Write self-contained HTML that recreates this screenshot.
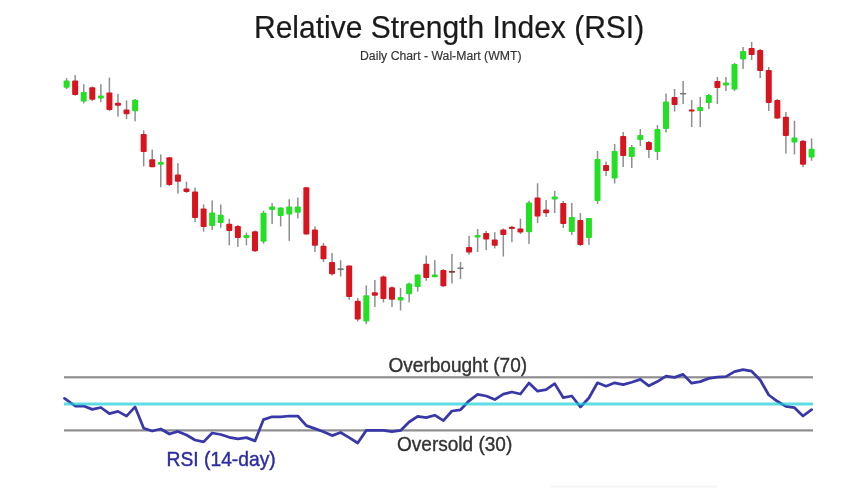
<!DOCTYPE html>
<html><head><meta charset="utf-8">
<style>
html,body{margin:0;padding:0;background:#fff;}
body{width:850px;height:500px;overflow:hidden;position:relative;font-family:"Liberation Sans",sans-serif;}
svg{position:absolute;left:0;top:0;filter:blur(0.35px);}
.t{position:absolute;white-space:nowrap;line-height:1;filter:blur(0.25px);}
</style></head><body>
<svg width="850" height="500" viewBox="0 0 850 500">
<g>
<rect x="65.85" y="78.2" width="1.5" height="10.8" fill="#8f8f8f"/>
<rect x="63.60" y="80.6" width="6" height="7.2" rx="1" fill="#24e024"/>
<rect x="74.41" y="75.2" width="1.5" height="20.4" fill="#8f8f8f"/>
<rect x="72.16" y="80.6" width="6" height="14.4" rx="1" fill="#d8141e"/>
<rect x="82.98" y="84.2" width="1.5" height="19.2" fill="#8f8f8f"/>
<rect x="80.73" y="92.0" width="6" height="9.6" rx="1" fill="#24e024"/>
<rect x="91.54" y="86.5" width="1.5" height="14.5" fill="#8f8f8f"/>
<rect x="89.29" y="87.2" width="6" height="12.6" rx="1" fill="#d8141e"/>
<rect x="100.10" y="84.2" width="1.5" height="18.0" fill="#8f8f8f"/>
<rect x="97.85" y="95.6" width="6" height="3.0" rx="1" fill="#24e024"/>
<rect x="108.66" y="77.6" width="1.5" height="33.6" fill="#8f8f8f"/>
<rect x="106.41" y="92.6" width="6" height="17.4" rx="1" fill="#d8141e"/>
<rect x="117.23" y="93.8" width="1.5" height="22.8" fill="#8f8f8f"/>
<rect x="114.98" y="102.8" width="6" height="3.0" rx="1" fill="#d8141e"/>
<rect x="125.79" y="100.4" width="1.5" height="18.6" fill="#8f8f8f"/>
<rect x="123.54" y="109.4" width="6" height="4.8" rx="1" fill="#d8141e"/>
<rect x="134.35" y="99.0" width="1.5" height="22.4" fill="#8f8f8f"/>
<rect x="132.10" y="99.8" width="6" height="11.4" rx="1" fill="#24e024"/>
<rect x="142.92" y="130.4" width="1.5" height="36.0" fill="#8f8f8f"/>
<rect x="140.67" y="134.1" width="6" height="17.9" rx="1" fill="#d8141e"/>
<rect x="151.48" y="149.6" width="1.5" height="17.6" fill="#8f8f8f"/>
<rect x="149.23" y="159.2" width="6" height="8.0" rx="1" fill="#d8141e"/>
<rect x="160.04" y="154.4" width="1.5" height="32.9" fill="#8f8f8f"/>
<rect x="157.79" y="162.0" width="6" height="2.8" rx="1" fill="#24e024"/>
<rect x="168.61" y="157.2" width="1.5" height="28.8" fill="#8f8f8f"/>
<rect x="166.36" y="157.2" width="6" height="27.7" rx="1" fill="#d8141e"/>
<rect x="177.17" y="163.2" width="1.5" height="30.5" fill="#8f8f8f"/>
<rect x="174.92" y="174.5" width="6" height="7.2" rx="1" fill="#d8141e"/>
<rect x="185.73" y="181.7" width="1.5" height="11.2" fill="#8f8f8f"/>
<rect x="183.48" y="188.5" width="6" height="3.5" rx="1" fill="#d8141e"/>
<rect x="194.30" y="187.6" width="1.5" height="34.4" fill="#8f8f8f"/>
<rect x="192.05" y="191.6" width="6" height="26.4" rx="1" fill="#d8141e"/>
<rect x="202.86" y="204.4" width="1.5" height="27.3" fill="#8f8f8f"/>
<rect x="200.61" y="208.4" width="6" height="18.5" rx="1" fill="#d8141e"/>
<rect x="211.42" y="200.4" width="1.5" height="29.6" fill="#8f8f8f"/>
<rect x="209.17" y="212.4" width="6" height="13.6" rx="1" fill="#24e024"/>
<rect x="219.98" y="204.4" width="1.5" height="23.3" fill="#8f8f8f"/>
<rect x="217.73" y="214.8" width="6" height="8.1" rx="1" fill="#24e024"/>
<rect x="228.55" y="218.8" width="1.5" height="26.5" fill="#8f8f8f"/>
<rect x="226.30" y="223.7" width="6" height="7.2" rx="1" fill="#d8141e"/>
<rect x="237.11" y="225.0" width="1.5" height="21.9" fill="#8f8f8f"/>
<rect x="234.86" y="226.0" width="6" height="12.0" rx="1" fill="#d8141e"/>
<rect x="245.67" y="232.5" width="1.5" height="12.8" fill="#8f8f8f"/>
<rect x="243.42" y="234.9" width="6" height="3.1" rx="1" fill="#24e024"/>
<rect x="254.24" y="230.5" width="1.5" height="21.5" fill="#8f8f8f"/>
<rect x="251.99" y="231.2" width="6" height="20.1" rx="1" fill="#d8141e"/>
<rect x="262.80" y="210.8" width="1.5" height="32.9" fill="#8f8f8f"/>
<rect x="260.55" y="212.8" width="6" height="28.9" rx="1" fill="#24e024"/>
<rect x="271.36" y="203.2" width="1.5" height="20.8" fill="#8f8f8f"/>
<rect x="269.11" y="206.5" width="6" height="3.5" rx="1" fill="#24e024"/>
<rect x="279.93" y="207.5" width="1.5" height="18.9" fill="#8f8f8f"/>
<rect x="277.68" y="207.5" width="6" height="8.5" rx="1" fill="#24e024"/>
<rect x="288.49" y="199.2" width="1.5" height="41.7" fill="#8f8f8f"/>
<rect x="286.24" y="206.4" width="6" height="8.0" rx="1" fill="#24e024"/>
<rect x="297.05" y="197.6" width="1.5" height="20.8" fill="#8f8f8f"/>
<rect x="294.80" y="206.4" width="6" height="6.4" rx="1" fill="#24e024"/>
<rect x="305.61" y="187.2" width="1.5" height="47.3" fill="#8f8f8f"/>
<rect x="303.36" y="187.2" width="6" height="47.3" rx="1" fill="#d8141e"/>
<rect x="314.18" y="226.4" width="1.5" height="25.6" fill="#8f8f8f"/>
<rect x="311.93" y="229.6" width="6" height="16.1" rx="1" fill="#d8141e"/>
<rect x="322.74" y="243.1" width="1.5" height="18.9" fill="#8f8f8f"/>
<rect x="320.49" y="245.8" width="6" height="13.5" rx="1" fill="#d8141e"/>
<rect x="331.30" y="253.0" width="1.5" height="22.5" fill="#8f8f8f"/>
<rect x="329.05" y="262.0" width="6" height="12.2" rx="1" fill="#d8141e"/>
<rect x="339.87" y="260.2" width="1.5" height="16.2" fill="#8f8f8f"/>
<rect x="337.62" y="268.3" width="6" height="1.8" fill="#777777"/>
<rect x="348.43" y="265.6" width="1.5" height="34.2" fill="#8f8f8f"/>
<rect x="346.18" y="265.6" width="6" height="31.5" rx="1" fill="#d8141e"/>
<rect x="356.99" y="298.0" width="1.5" height="23.4" fill="#8f8f8f"/>
<rect x="354.74" y="300.7" width="6" height="18.9" rx="1" fill="#d8141e"/>
<rect x="365.56" y="285.4" width="1.5" height="38.7" fill="#8f8f8f"/>
<rect x="363.31" y="295.3" width="6" height="26.1" rx="1" fill="#24e024"/>
<rect x="374.12" y="280.0" width="1.5" height="27.0" fill="#8f8f8f"/>
<rect x="371.87" y="292.2" width="6" height="3.6" rx="1" fill="#d8141e"/>
<rect x="382.68" y="275.5" width="1.5" height="27.0" fill="#8f8f8f"/>
<rect x="380.43" y="276.4" width="6" height="22.5" rx="1" fill="#d8141e"/>
<rect x="391.24" y="286.3" width="1.5" height="20.7" fill="#8f8f8f"/>
<rect x="388.99" y="287.2" width="6" height="12.6" rx="1" fill="#d8141e"/>
<rect x="399.81" y="288.0" width="1.5" height="22.5" fill="#8f8f8f"/>
<rect x="397.56" y="297.0" width="6" height="3.6" rx="1" fill="#24e024"/>
<rect x="408.37" y="282.6" width="1.5" height="19.8" fill="#8f8f8f"/>
<rect x="406.12" y="283.5" width="6" height="10.8" rx="1" fill="#24e024"/>
<rect x="416.93" y="274.5" width="1.5" height="17.1" fill="#8f8f8f"/>
<rect x="414.68" y="274.5" width="6" height="12.6" rx="1" fill="#24e024"/>
<rect x="425.50" y="255.6" width="1.5" height="25.2" fill="#8f8f8f"/>
<rect x="423.25" y="263.7" width="6" height="14.4" rx="1" fill="#d8141e"/>
<rect x="434.06" y="260.1" width="1.5" height="17.1" fill="#8f8f8f"/>
<rect x="431.81" y="274.5" width="6" height="2.7" rx="1" fill="#24e024"/>
<rect x="442.62" y="269.0" width="1.5" height="18.0" fill="#8f8f8f"/>
<rect x="440.37" y="270.0" width="6" height="16.2" rx="1" fill="#d8141e"/>
<rect x="451.19" y="253.8" width="1.5" height="29.7" fill="#8f8f8f"/>
<rect x="448.94" y="270.9" width="6" height="1.8" fill="#8a3a3a"/>
<rect x="459.75" y="261.9" width="1.5" height="17.1" fill="#8f8f8f"/>
<rect x="457.50" y="267.5" width="6" height="1.5" fill="#777777"/>
<rect x="468.31" y="235.8" width="1.5" height="18.9" fill="#8f8f8f"/>
<rect x="466.06" y="247.0" width="6" height="5.5" rx="1" fill="#d8141e"/>
<rect x="476.87" y="229.0" width="1.5" height="23.0" fill="#8f8f8f"/>
<rect x="474.62" y="234.9" width="6" height="2.7" rx="1" fill="#24e024"/>
<rect x="485.44" y="231.0" width="1.5" height="19.2" fill="#8f8f8f"/>
<rect x="483.19" y="233.1" width="6" height="6.3" rx="1" fill="#d8141e"/>
<rect x="494.00" y="232.2" width="1.5" height="16.2" fill="#8f8f8f"/>
<rect x="491.75" y="239.4" width="6" height="6.3" rx="1" fill="#d8141e"/>
<rect x="502.56" y="228.6" width="1.5" height="27.9" fill="#8f8f8f"/>
<rect x="500.31" y="229.5" width="6" height="5.4" rx="1" fill="#d8141e"/>
<rect x="511.13" y="225.9" width="1.5" height="16.2" fill="#8f8f8f"/>
<rect x="508.88" y="226.8" width="6" height="2.2" rx="1" fill="#d8141e"/>
<rect x="519.69" y="218.7" width="1.5" height="15.3" fill="#8f8f8f"/>
<rect x="517.44" y="228.6" width="6" height="4.0" rx="1" fill="#d8141e"/>
<rect x="528.25" y="200.7" width="1.5" height="43.2" fill="#8f8f8f"/>
<rect x="526.00" y="202.5" width="6" height="29.7" rx="1" fill="#24e024"/>
<rect x="536.82" y="183.3" width="1.5" height="39.9" fill="#8f8f8f"/>
<rect x="534.57" y="197.5" width="6" height="19.0" rx="1" fill="#d8141e"/>
<rect x="545.38" y="200.0" width="1.5" height="17.0" fill="#8f8f8f"/>
<rect x="543.13" y="209.6" width="6" height="3.6" rx="1" fill="#d8141e"/>
<rect x="553.94" y="191.0" width="1.5" height="22.0" fill="#8f8f8f"/>
<rect x="551.69" y="196.4" width="6" height="3.2" rx="1" fill="#24e024"/>
<rect x="562.50" y="201.0" width="1.5" height="27.0" fill="#8f8f8f"/>
<rect x="560.25" y="203.0" width="6" height="21.0" rx="1" fill="#d8141e"/>
<rect x="571.07" y="203.0" width="1.5" height="32.0" fill="#8f8f8f"/>
<rect x="568.82" y="217.0" width="6" height="15.0" rx="1" fill="#24e024"/>
<rect x="579.63" y="213.0" width="1.5" height="33.0" fill="#8f8f8f"/>
<rect x="577.38" y="220.0" width="6" height="25.0" rx="1" fill="#d8141e"/>
<rect x="588.19" y="218.0" width="1.5" height="27.0" fill="#8f8f8f"/>
<rect x="585.94" y="218.0" width="6" height="20.0" rx="1" fill="#24e024"/>
<rect x="596.76" y="151.0" width="1.5" height="53.0" fill="#8f8f8f"/>
<rect x="594.51" y="159.0" width="6" height="42.0" rx="1" fill="#24e024"/>
<rect x="605.32" y="161.5" width="1.5" height="14.5" fill="#8f8f8f"/>
<rect x="603.07" y="165.0" width="6" height="6.0" rx="1" fill="#d8141e"/>
<rect x="613.88" y="144.0" width="1.5" height="39.5" fill="#8f8f8f"/>
<rect x="611.63" y="151.0" width="6" height="27.5" rx="1" fill="#24e024"/>
<rect x="622.45" y="132.0" width="1.5" height="35.0" fill="#8f8f8f"/>
<rect x="620.20" y="136.0" width="6" height="20.0" rx="1" fill="#d8141e"/>
<rect x="631.01" y="145.0" width="1.5" height="23.0" fill="#8f8f8f"/>
<rect x="628.76" y="147.0" width="6" height="10.0" rx="1" fill="#24e024"/>
<rect x="639.57" y="129.0" width="1.5" height="17.0" fill="#8f8f8f"/>
<rect x="637.32" y="135.0" width="6" height="5.0" rx="1" fill="#24e024"/>
<rect x="648.13" y="141.0" width="1.5" height="17.0" fill="#8f8f8f"/>
<rect x="645.88" y="142.0" width="6" height="8.0" rx="1" fill="#d8141e"/>
<rect x="656.70" y="125.0" width="1.5" height="35.0" fill="#8f8f8f"/>
<rect x="654.45" y="129.0" width="6" height="23.0" rx="1" fill="#24e024"/>
<rect x="665.26" y="93.5" width="1.5" height="39.0" fill="#8f8f8f"/>
<rect x="663.01" y="101.5" width="6" height="27.5" rx="1" fill="#24e024"/>
<rect x="673.82" y="89.0" width="1.5" height="22.5" fill="#8f8f8f"/>
<rect x="671.57" y="97.0" width="6" height="8.0" rx="1" fill="#d8141e"/>
<rect x="682.39" y="81.0" width="1.5" height="23.0" fill="#8f8f8f"/>
<rect x="680.14" y="93.0" width="6" height="1.5" fill="#777777"/>
<rect x="690.95" y="100.0" width="1.5" height="27.0" fill="#8f8f8f"/>
<rect x="688.70" y="109.6" width="6" height="2.0" rx="1" fill="#d8141e"/>
<rect x="699.51" y="97.0" width="1.5" height="30.0" fill="#8f8f8f"/>
<rect x="697.26" y="107.0" width="6" height="4.0" rx="1" fill="#24e024"/>
<rect x="708.08" y="94.0" width="1.5" height="15.0" fill="#8f8f8f"/>
<rect x="705.83" y="95.0" width="6" height="8.0" rx="1" fill="#24e024"/>
<rect x="716.64" y="77.0" width="1.5" height="27.0" fill="#8f8f8f"/>
<rect x="714.39" y="81.0" width="6" height="7.0" rx="1" fill="#d8141e"/>
<rect x="725.20" y="77.0" width="1.5" height="14.0" fill="#8f8f8f"/>
<rect x="722.95" y="82.6" width="6" height="3.0" rx="1" fill="#24e024"/>
<rect x="733.76" y="63.0" width="1.5" height="28.0" fill="#8f8f8f"/>
<rect x="731.51" y="64.0" width="6" height="25.5" rx="1" fill="#24e024"/>
<rect x="742.33" y="47.0" width="1.5" height="22.0" fill="#8f8f8f"/>
<rect x="740.08" y="51.0" width="6" height="8.5" rx="1" fill="#24e024"/>
<rect x="750.89" y="42.0" width="1.5" height="18.0" fill="#8f8f8f"/>
<rect x="748.64" y="48.0" width="6" height="7.0" rx="1" fill="#d8141e"/>
<rect x="759.45" y="49.0" width="1.5" height="29.0" fill="#8f8f8f"/>
<rect x="757.20" y="50.0" width="6" height="21.0" rx="1" fill="#d8141e"/>
<rect x="768.02" y="67.0" width="1.5" height="44.0" fill="#8f8f8f"/>
<rect x="765.77" y="70.0" width="6" height="33.0" rx="1" fill="#d8141e"/>
<rect x="776.58" y="99.0" width="1.5" height="20.0" fill="#8f8f8f"/>
<rect x="774.33" y="100.0" width="6" height="18.4" rx="1" fill="#d8141e"/>
<rect x="785.14" y="112.0" width="1.5" height="41.6" fill="#8f8f8f"/>
<rect x="782.89" y="116.8" width="6" height="19.2" rx="1" fill="#d8141e"/>
<rect x="793.71" y="120.8" width="1.5" height="33.6" fill="#8f8f8f"/>
<rect x="791.46" y="137.6" width="6" height="4.8" rx="1" fill="#24e024"/>
<rect x="802.27" y="140.0" width="1.5" height="27.2" fill="#8f8f8f"/>
<rect x="800.02" y="140.8" width="6" height="24.0" rx="1" fill="#d8141e"/>
<rect x="810.83" y="138.4" width="1.5" height="22.4" fill="#8f8f8f"/>
<rect x="808.58" y="148.8" width="6" height="8.8" rx="1" fill="#24e024"/>
</g>
<rect x="64" y="376.2" width="749" height="2.2" fill="#8e8e8e"/>
<rect x="64" y="429.3" width="749" height="2.2" fill="#8e8e8e"/>
<polyline points="64.5,398.4 75.2,406 83.7,406 92.3,409.4 100.9,407.5 109.4,413.7 118.0,411.4 126.5,416.1 135.1,406.9 143.7,428.2 152.2,431 160.8,429 169.4,434 177.9,431.4 186.5,435 195.0,440 203.6,441.9 212.2,433 220.7,434.5 229.3,437.3 237.9,438.9 246.4,437.6 255.0,440.9 263.5,419.6 272.1,416.8 280.7,416.8 289.2,416 297.8,416 306.4,425.6 314.9,428.6 323.5,431.8 332.1,435.6 340.6,432.5 349.2,437.6 357.7,443 366.3,430.4 374.9,430.4 383.4,430.4 392.0,431.6 400.6,430.4 409.1,422 417.7,416.4 426.2,417.6 434.8,415.2 443.4,420.6 451.9,411 460.5,409.8 469.1,400.8 477.6,394.3 486.2,396 494.8,399.6 503.3,394.2 511.9,392 520.4,394 529.0,383 537.6,391.2 546.1,389.6 554.7,383.6 563.3,397.7 571.8,396 580.4,407 588.9,398 597.5,382.8 606.1,386.2 614.6,382.8 623.2,384.6 631.8,382.2 640.3,379.4 648.9,385.8 657.4,381.6 666.0,376.2 674.6,377.4 683.1,374.4 691.7,383.2 700.3,381.6 708.8,378.4 717.4,377.2 726.0,376.6 734.5,371.6 743.1,369.6 751.6,371.2 760.2,380 768.8,395 777.3,401.3 785.9,406.4 794.5,407.7 803.0,416 811.6,409.6" fill="none" stroke="#3838a8" stroke-width="2.75" stroke-linejoin="round" stroke-linecap="round"/>
<rect x="64" y="402.5" width="749" height="3" fill="#1ad0d8" fill-opacity="0.7"/>
<rect x="551" y="485.6" width="166" height="2" fill="#f4f4f4"/>
</svg>
<div class="t" id="title" style="left:254px;top:11.5px;font-size:30px;color:#1a1a1a;-webkit-text-stroke:0.2px #1a1a1a;transform:scaleY(1.05);transform-origin:0 0;">Relative Strength Index (RSI)</div>
<div class="t" id="sub" style="left:360px;top:49.5px;font-size:12.25px;color:#333;-webkit-text-stroke:0.15px #333;transform:scaleY(1.03);transform-origin:0 0;">Daily Chart - Wal-Mart (WMT)</div>
<div class="t" id="ob" style="left:388.5px;top:355px;font-size:19.05px;color:#333;-webkit-text-stroke:0.35px #333;transform:scaleY(1.05);transform-origin:0 0;">Overbought (70)</div>
<div class="t" id="os" style="left:397px;top:433.5px;font-size:19.05px;color:#333;-webkit-text-stroke:0.35px #333;transform:scaleY(1.05);transform-origin:0 0;">Oversold (30)</div>
<div class="t" id="rsil" style="left:166.5px;top:448.5px;font-size:19.3px;color:#2c2ca4;-webkit-text-stroke:0.4px #2c2ca4;transform:scaleY(1.04);transform-origin:0 0;">RSI (14-day)</div>
</body></html>
